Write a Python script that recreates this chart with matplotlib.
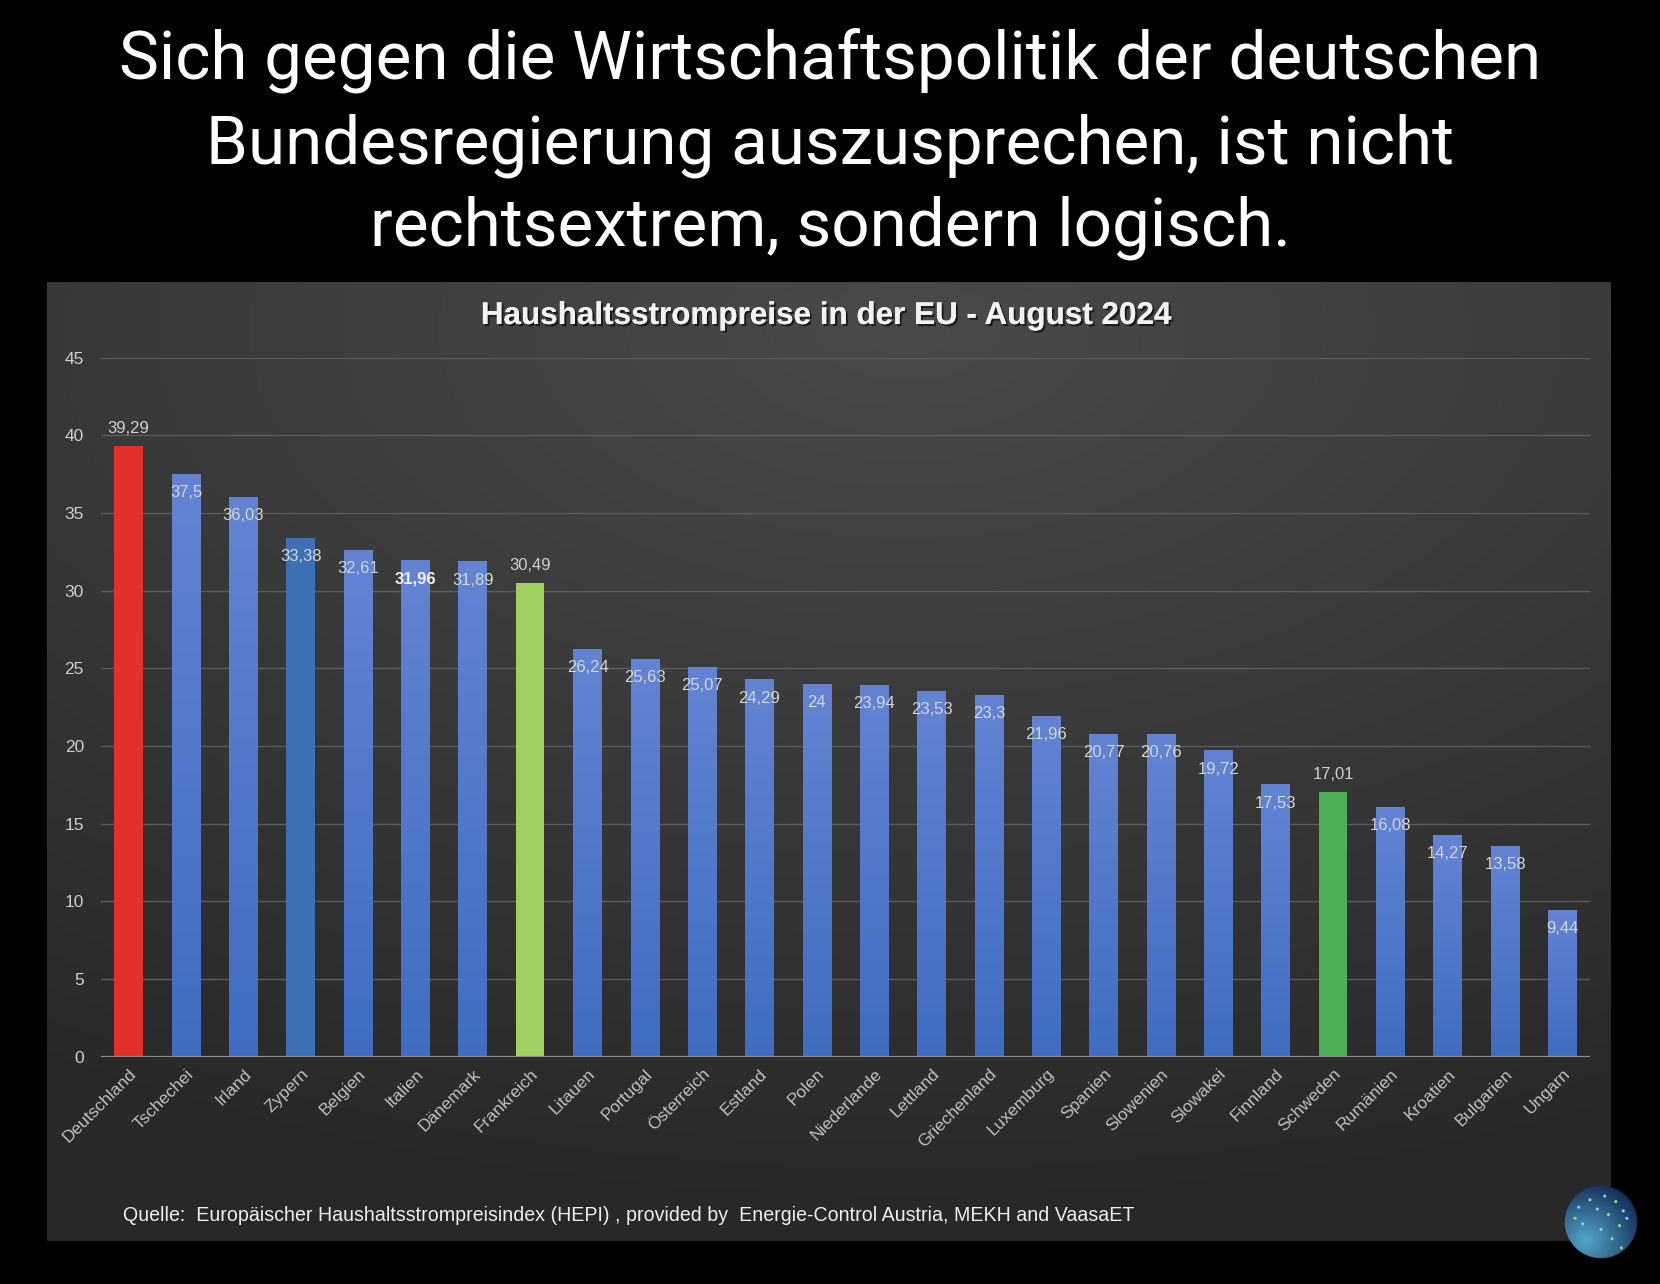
import numpy as np
import matplotlib
matplotlib.use("Agg")
import matplotlib.pyplot as plt
from matplotlib import font_manager
from matplotlib.colors import LinearSegmentedColormap
from matplotlib.patches import Circle
import matplotlib.patheffects as pe

# Daten
laender = ["Deutschland", "Tschechei", "Irland", "Zypern", "Belgien", "Italien",
           "Dänemark", "Frankreich", "Litauen", "Portugal", "Österreich", "Estland",
           "Polen", "Niederlande", "Lettland", "Griechenland", "Luxemburg", "Spanien",
           "Slowenien", "Slowakei", "Finnland", "Schweden", "Rumänien", "Kroatien",
           "Bulgarien", "Ungarn"]
preise = [39.29, 37.5, 36.03, 33.38, 32.61, 31.96, 31.89, 30.49, 26.24, 25.63,
          25.07, 24.29, 24, 23.94, 23.53, 23.3, 21.96, 20.77, 20.76, 19.72,
          17.53, 17.01, 16.08, 14.27, 13.58, 9.44]
y_ticks = [0, 5, 10, 15, 20, 25, 30, 35, 40, 45]

ueberschrift = ["Sich gegen die Wirtschaftspolitik der deutschen",
                "Bundesregierung auszusprechen, ist nicht",
                "rechtsextrem, sondern logisch."]
diagrammtitel = "Haushaltsstrompreise in der EU - August 2024"
quelle = ("Quelle:  Europäischer Haushaltsstrompreisindex (HEPI) , provided by  "
          "Energie-Control Austria, MEKH and VaasaET")

# Sonderfarben (Rest: blauer Verlauf)
sonderfarben = {"Deutschland": "#e3302a", "Zypern": "#3d70b4",
                "Frankreich": "#a0d060", "Schweden": "#4caf55"}
label_oben = ["Deutschland", "Frankreich", "Schweden"]

verfuegbar = {f.name for f in font_manager.fontManager.ttflist}


def schrift(*namen):
    for n in namen:
        if n in verfuegbar:
            return n
    return "DejaVu Sans"


f_titel = schrift("Liberation Sans Narrow", "Roboto", "Liberation Sans")
f_chart = schrift("Liberation Sans", "Open Sans")

W, H = 1660, 1284
fig = plt.figure(figsize=(W / 100, H / 100), dpi=100)
fig.patch.set_facecolor("black")


def fx(px):
    return px / W


def fy(py):
    return 1 - py / H


def breite_anpassen(txt, ziel_px):
    r = fig.canvas.get_renderer()
    w = txt.get_window_extent(renderer=r).width
    txt.set_fontsize(txt.get_fontsize() * ziel_px / w)


# Hintergrund des Diagramms (Verlauf)
px0, px1, py0, py1 = 46.6, 1610, 281.6, 1240.8
hg = fig.add_axes([fx(px0), fy(py1), fx(px1 - px0), (py1 - py0) / H], zorder=0)
gx, gy = np.meshgrid(np.linspace(0, 1, 400), np.linspace(0, 1, 300))
d = np.sqrt(((gx - 0.55) * 1.0) ** 2 + ((gy - 0.05) * 1.1) ** 2)
wert = np.clip(0.29 - 0.13 * d, 0.16, 0.3)
hg.imshow(np.dstack([wert, wert, wert]), aspect="auto", extent=(0, 1, 0, 1), origin="upper")
hg.axis("off")

# Hauptachse
ax_l, ax_r, ax_b, ax_t = 100.6, 1590, 1056.6, 357.8
ax = fig.add_axes([fx(ax_l), fy(ax_b), fx(ax_r - ax_l), (ax_b - ax_t) / H], zorder=1)
ax.set_facecolor("none")

x = np.arange(len(laender))
farben = [sonderfarben.get(l, "#4a74c8") for l in laender]
balken = ax.bar(x, preise, width=0.5, color=farben, zorder=3)

blau = LinearSegmentedColormap.from_list("blau", ["#406dc2", "#6384d3"])
verlauf = np.linspace(0, 1, 256).reshape(-1, 1)
for b, l in zip(balken, laender):
    if l in sonderfarben:
        continue
    bx, bw, bh = b.get_x(), b.get_width(), b.get_height()
    im = ax.imshow(verlauf, cmap=blau, aspect="auto", origin="lower",
                   extent=(bx, bx + bw, 0, bh), zorder=3.5)
    im.set_clip_path(b)

for i, (l, v) in enumerate(zip(laender, preise)):
    txt = f"{v:g}".replace(".", ",")
    if l in label_oben:
        ax.text(i, v + 1.15, txt, ha="center", va="center", color="#d0d0d0",
                fontsize=12, family=f_chart, zorder=5)
    else:
        dick = l == "Italien"
        ax.text(i, v - 1.2, txt, ha="center", va="center",
                color="#f2f2f2" if dick else "#d6d6d6",
                fontweight="bold" if dick else "normal",
                fontsize=12, family=f_chart, zorder=5)

ax.set_xlim(-0.49, len(laender) - 0.52)
ax.set_ylim(0, 45)
ax.set_yticks(y_ticks)
ax.set_yticklabels([str(t) for t in y_ticks])
for t in y_ticks[1:]:
    ax.axhline(t, color="#5c5c5c", lw=1.0, zorder=1)
ax.axhline(0, color="#8c8c8c", lw=1.6, zorder=4)
for s in ax.spines.values():
    s.set_visible(False)
ax.tick_params(axis="y", length=0, pad=12, labelsize=12.5, labelcolor="#cfcfcf")
ax.tick_params(axis="x", length=0, pad=7, labelsize=12.5, labelcolor="#c0c0c0")
ax.set_xticks(x)
ax.set_xticklabels(laender, rotation=45, ha="right", rotation_mode="anchor")
for t in ax.get_yticklabels() + ax.get_xticklabels():
    t.set_family(f_chart)

# Diagrammtitel
dt = fig.text(fx(826), fy(324), diagrammtitel, ha="center", va="baseline",
              color="#f2f2f2", fontsize=17, fontweight="bold", family=f_chart,
              path_effects=[pe.withSimplePatchShadow(offset=(1.5, -1.5), shadow_rgbFace="black", alpha=0.6),
                            pe.Normal()])
breite_anpassen(dt, 693)

# Quelle
q = fig.text(fx(122.8), fy(1221), quelle, ha="left", va="baseline",
             color="#ededed", fontsize=14, family=f_chart)
breite_anpassen(q, 1012)

# Überschrift
baselines = [79.4, 164, 245.6]
zeilen = []
for z, b in zip(ueberschrift, baselines):
    zeilen.append(fig.text(0.5, fy(b), z, ha="center", va="baseline",
                           color="white", fontsize=44, family=f_titel))
r = fig.canvas.get_renderer()
w0 = zeilen[0].get_window_extent(renderer=r).width
for t in zeilen:
    t.set_fontsize(44 * 1422 / w0)

# Logo unten rechts
lg = fig.add_axes([fx(1601 - 37), fy(1222 + 37), fx(74), 74 / H], zorder=3)
lx, ly = np.meshgrid(np.linspace(-1, 1, 200), np.linspace(-1, 1, 200))
t = np.clip(np.sqrt((lx + 0.4) ** 2 + (ly + 0.5) ** 2) / 1.8, 0, 1)
c1 = np.array([0.33, 0.65, 0.78])
c2 = np.array([0.05, 0.12, 0.30])
bild = c1[None, None, :] * (1 - t[..., None]) + c2[None, None, :] * t[..., None]
im = lg.imshow(bild, extent=(-1, 1, -1, 1), origin="lower")
kreis = Circle((0, 0), 0.98, transform=lg.transData)
im.set_clip_path(kreis)
punkte_x = [-0.6, -0.3, 0.1, 0.4, 0.6, 0.2, -0.1, 0.5, 0.7, -0.5, 0.3, -0.7, 0.0, 0.55]
punkte_y = [0.4, 0.6, 0.7, 0.55, 0.3, 0.2, 0.35, -0.1, 0.1, -0.05, -0.45, 0.1, -0.2, -0.7]
punkte_f = ["#7fd3ff", "#8ce07a", "#7fd3ff", "#8ce07a", "#7fd3ff", "#8ce07a", "#7fd3ff",
            "#8ce07a", "#7fd3ff", "#7fd3ff", "#8ce07a", "#8ce07a", "#7fd3ff", "#8ce07a"]
lg.scatter(punkte_x, punkte_y, s=5, c=punkte_f, zorder=4, linewidths=0)
lg.set_xlim(-1, 1)
lg.set_ylim(-1, 1)
lg.axis("off")

fig.savefig("out.png", dpi=100, facecolor="black")
